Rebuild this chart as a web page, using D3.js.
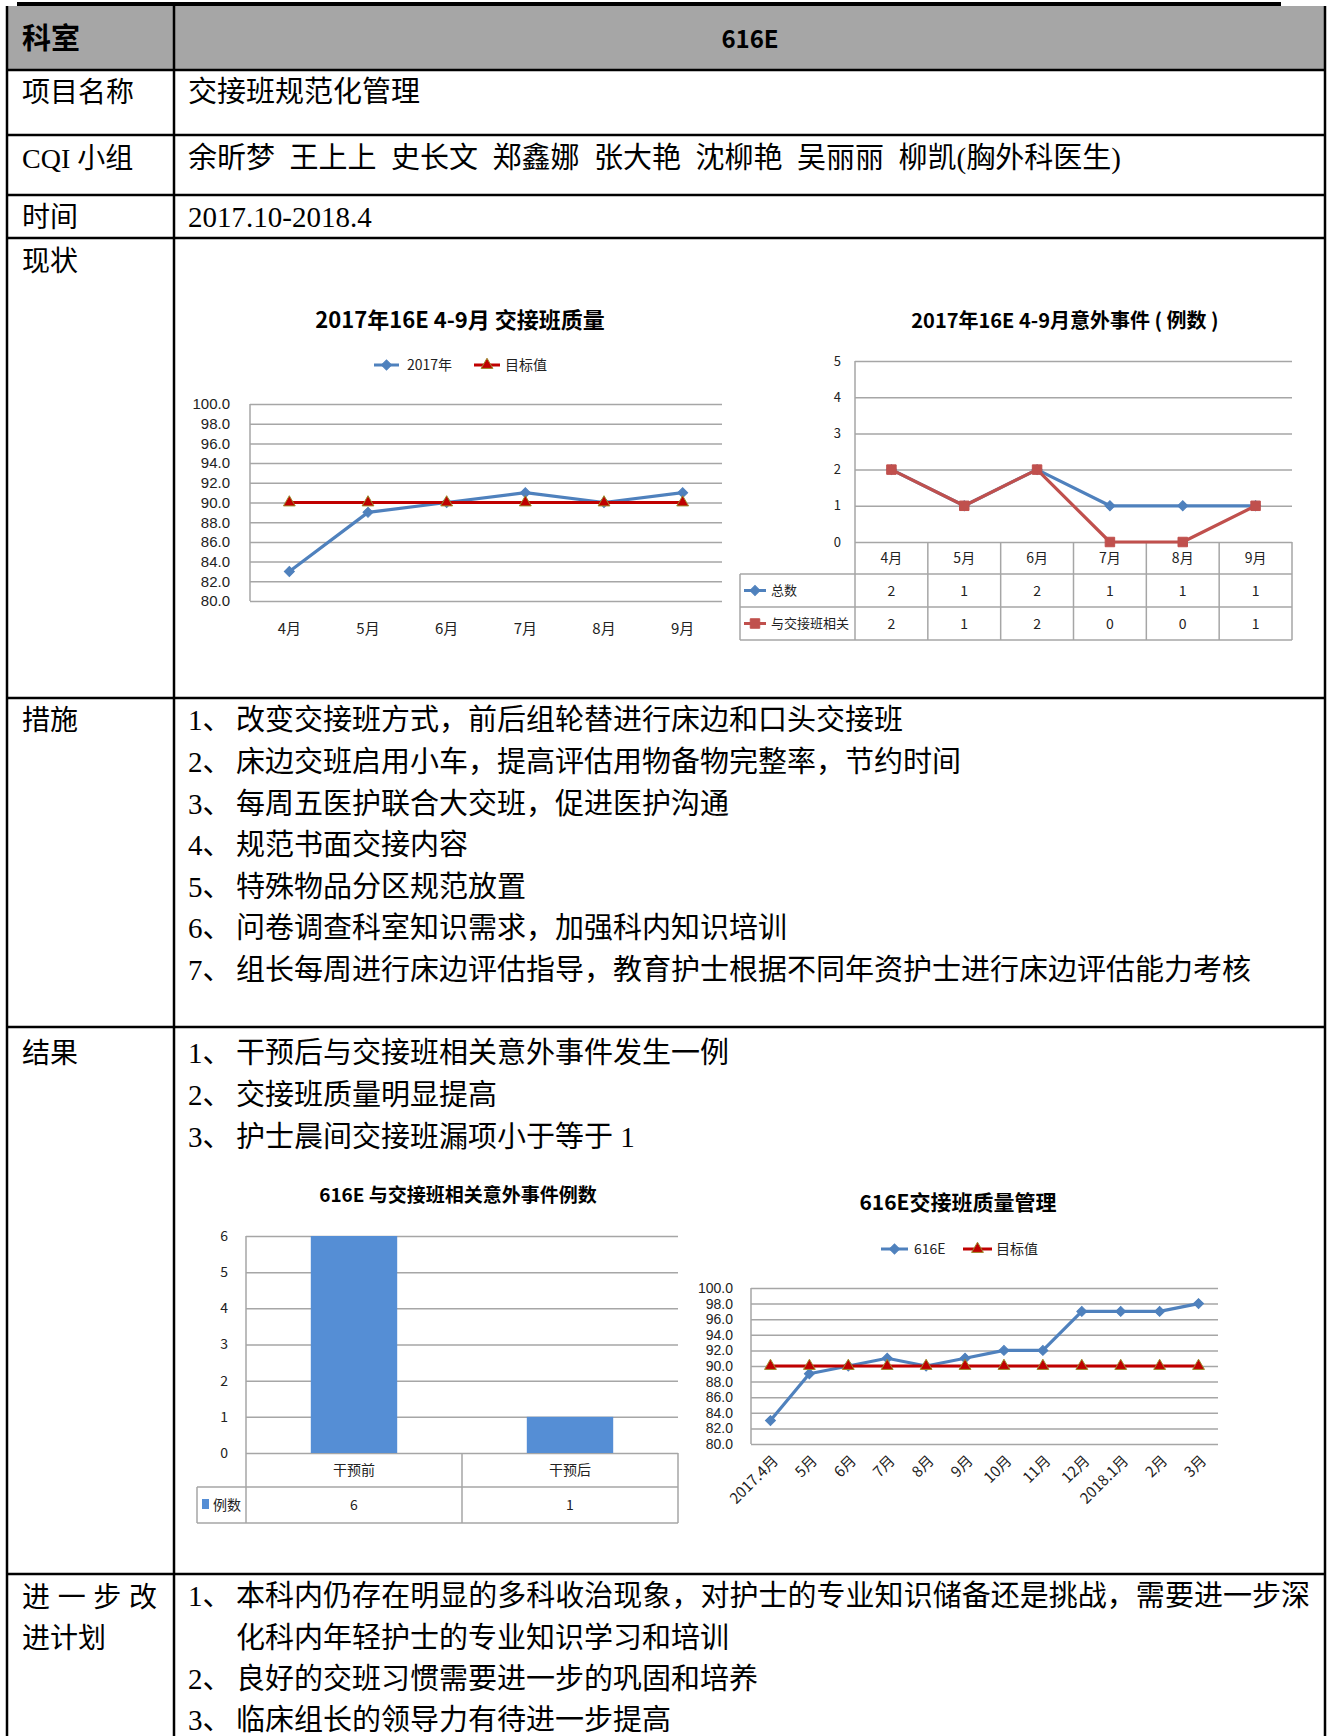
<!DOCTYPE html>
<html>
<head>
<meta charset="utf-8">
<script src="https://cdn.jsdelivr.net/npm/d3@7"></script>
<style>
  body { margin: 0; background: #fff; }
  svg { display: block; }
</style>
</head>
<body>
<script>
// ---- chart data ----
const months6 = ["4月", "5月", "6月", "7月", "8月", "9月"];
const quality2017 = [83, 89, 90, 91, 90, 91];
const targetValue = 90;
const qualityTicks = [80, 82, 84, 86, 88, 90, 92, 94, 96, 98, 100];

const eventTotal = [2, 1, 2, 1, 1, 1];
const eventHandover = [2, 1, 2, 0, 0, 1];
const eventTicks = [0, 1, 2, 3, 4, 5];

const phases = ["干预前", "干预后"];
const phaseCounts = [6, 1];
const phaseTicks = [0, 1, 2, 3, 4, 5, 6];

const months12 = ["2017.4月", "5月", "6月", "7月", "8月", "9月", "10月", "11月", "12月", "2018.1月", "2月", "3月"];
const quality616E = [83, 89, 90, 91, 90, 91, 92, 92, 97, 97, 97, 98];

// ---- table text ----
const members = "余昕梦  王上上  史长文  郑鑫娜  张大艳  沈柳艳  吴丽丽  柳凯(胸外科医生)";
const measures = [
  "改变交接班方式，前后组轮替进行床边和口头交接班",
  "床边交班启用小车，提高评估用物备物完整率，节约时间",
  "每周五医护联合大交班，促进医护沟通",
  "规范书面交接内容",
  "特殊物品分区规范放置",
  "问卷调查科室知识需求，加强科内知识培训",
  "组长每周进行床边评估指导，教育护士根据不同年资护士进行床边评估能力考核"
];
const results = [
  "干预后与交接班相关意外事件发生一例",
  "交接班质量明显提高",
  "护士晨间交接班漏项小于等于 1"
];
const plans = [
  ["本科内仍存在明显的多科收治现象，对护士的专业知识储备还是挑战，需要进一步深", "化科内年轻护士的专业知识学习和培训"],
  ["良好的交班习惯需要进一步的巩固和培养"],
  ["临床组长的领导力有待进一步提高"]
];

const SERIF = "'Liberation Serif', 'Noto Sans CJK SC', serif";
const SANS = "'Noto Sans CJK SC', 'Noto Sans', sans-serif";
const NUM = "'Liberation Sans', 'Noto Sans', sans-serif";
const GRID = "#a6a6a6";
const BLUE = "#4f81bd";
const DARKRED = "#c00000";
const RED = "#c0504d";

const svg = d3.select("body").append("svg")
    .attr("width", 1330)
    .attr("height", 1736);

function txt(g, x, y, s, size, opts = {}) {
  return g.append("text")
      .attr("x", x)
      .attr("y", y)
      .attr("dy", "0.36em")
      .attr("font-family", opts.family || SERIF)
      .attr("font-size", size)
      .attr("font-weight", opts.weight || "normal")
      .attr("text-anchor", opts.anchor || "start")
      .attr("fill", opts.fill || "#000")
      .style("white-space", "pre")
      .text(s);
}

// ---- table frame ----
const colLeft = 7, colMid = 174, colRight = 1325;
const rowLines = [70, 135, 195, 238, 698, 1027, 1574];

svg.append("rect")
    .attr("x", colLeft).attr("y", 6)
    .attr("width", colRight - colLeft).attr("height", 64)
    .attr("fill", "#a6a6a6");

svg.append("line")
    .attr("x1", 17).attr("x2", 1281).attr("y1", 4).attr("y2", 4)
    .attr("stroke", "#000").attr("stroke-width", 4);

rowLines.forEach(y => {
  svg.append("line")
      .attr("x1", colLeft - 1).attr("x2", colRight + 1).attr("y1", y).attr("y2", y)
      .attr("stroke", "#000").attr("stroke-width", 2.5);
});
[colLeft, colMid, colRight].forEach(x => {
  svg.append("line")
      .attr("x1", x).attr("x2", x).attr("y1", 6).attr("y2", 1736)
      .attr("stroke", "#000").attr("stroke-width", 2.5);
});

// ---- table text ----
txt(svg, 22, 39, "科室", 29, { family: SANS, weight: "bold" });
txt(svg, 750, 39, "616E", 24, { family: SANS, weight: "bold", anchor: "middle" });

txt(svg, 22, 92, "项目名称", 28);
txt(svg, 188, 92, "交接班规范化管理", 29);
txt(svg, 22, 158, "CQI 小组", 28);
txt(svg, 188, 158, members, 29);
txt(svg, 22, 217, "时间", 28);
txt(svg, 188, 217, "2017.10-2018.4", 29);
txt(svg, 22, 261, "现状", 28);

const lineGap = 41.6;
txt(svg, 22, 720, "措施", 28);
measures.forEach((s, i) => {
  txt(svg, 188, 720 + i * lineGap, (i + 1) + "、", 29);
  txt(svg, 236, 720 + i * lineGap, s, 29);
});

txt(svg, 22, 1053, "结果", 28);
results.forEach((s, i) => {
  txt(svg, 188, 1053 + i * lineGap, (i + 1) + "、", 29);
  txt(svg, 236, 1053 + i * lineGap, s, 29);
});

txt(svg, 22, 1597, "进 一 步 改", 28).attr("textLength", 135).attr("lengthAdjust", "spacing");
txt(svg, 22, 1638, "进计划", 28);
let planLine = 0;
plans.forEach((lines, i) => {
  lines.forEach((s, j) => {
    const y = 1596 + planLine * 41.2;
    if (j === 0) txt(svg, 188, y, (i + 1) + "、", 29);
    const t = txt(svg, 236, y, s, 29);
    if (j === 0 && lines.length > 1) t.attr("textLength", 1074).attr("lengthAdjust", "spacing");
    planLine++;
  });
});

// ---- chart helpers ----
const diamond = { type: d3.symbolSquare, size: 50, rotate: 45, fill: BLUE, stroke: BLUE };
const triangle = { type: d3.symbolTriangle, size: 60, rotate: 0, fill: DARKRED, stroke: "#9c8a2c" };
const square = { type: d3.symbolSquare, size: 90, rotate: 0, fill: RED, stroke: RED };

function drawMarker(g, cx, cy, m) {
  g.append("path")
      .attr("d", d3.symbol(m.type, m.size)())
      .attr("transform", `translate(${cx},${cy}) rotate(${m.rotate})`)
      .attr("fill", m.fill)
      .attr("stroke", m.stroke)
      .attr("stroke-width", 1);
}

function drawSeries(g, x, y, cats, vals, color, m) {
  const line = d3.line()
      .x((d, i) => x(cats[i]) + x.bandwidth() / 2)
      .y(d => y(d));
  g.append("path")
      .datum(vals)
      .attr("fill", "none")
      .attr("stroke", color)
      .attr("stroke-width", 3.2)
      .attr("stroke-linejoin", "round")
      .attr("d", line);
  vals.forEach((v, i) => drawMarker(g, x(cats[i]) + x.bandwidth() / 2, y(v), m));
}

function legendKey(g, x, y, len, color, m) {
  g.append("line")
      .attr("x1", x).attr("x2", x + len).attr("y1", y).attr("y2", y)
      .attr("stroke", color).attr("stroke-width", 3);
  drawMarker(g, x + len / 2, y, m);
}

function gridAxis(g, y, ticks, x0, x1, pad, fmt, size, family) {
  g.append("g")
      .attr("transform", `translate(${x0},0)`)
      .call(d3.axisLeft(y).tickValues(ticks).tickSize(-(x1 - x0)).tickPadding(pad).tickFormat(fmt))
      .call(a => a.select(".domain").remove())
      .call(a => a.selectAll("line").attr("stroke", GRID).attr("stroke-width", 1.5))
      .call(a => a.selectAll("text").attr("font-family", family).attr("font-size", size).attr("fill", "#222"));
  g.append("line")
      .attr("x1", x0).attr("x2", x0).attr("y1", y.range()[1]).attr("y2", y.range()[0])
      .attr("stroke", GRID).attr("stroke-width", 1.5);
}

function gline(g, x1, y1, x2, y2) {
  g.append("line")
      .attr("x1", x1).attr("x2", x2).attr("y1", y1).attr("y2", y2)
      .attr("stroke", GRID).attr("stroke-width", 1.5);
}

// ---- chart 1: 2017 quality ----
const c1 = svg.append("g");
const x1 = d3.scaleBand().domain(months6).range([250, 722]);
const y1 = d3.scaleLinear().domain([80, 100]).range([601, 404]);

txt(c1, 460, 320, "2017年16E 4-9月 交接班质量", 22, { family: SANS, weight: "bold", anchor: "middle" });
gridAxis(c1, y1, qualityTicks, 250, 722, 20, d3.format(".1f"), 15, NUM);

c1.append("g")
    .attr("transform", "translate(0,601)")
    .call(d3.axisBottom(x1).tickSize(0).tickPadding(22))
    .call(a => a.select(".domain").remove())
    .call(a => a.selectAll("text").attr("font-family", SANS).attr("font-size", 15).attr("fill", "#222"));

drawSeries(c1, x1, y1, months6, quality2017, BLUE, diamond);
drawSeries(c1, x1, y1, months6, months6.map(() => targetValue), DARKRED, triangle);

legendKey(c1, 374, 365, 25, BLUE, diamond);
txt(c1, 407, 365, "2017年", 14, { family: SANS, fill: "#222" });
legendKey(c1, 474, 365, 26, DARKRED, triangle);
txt(c1, 505, 365, "目标值", 14, { family: SANS, fill: "#222" });

// ---- chart 2: incidents 4-9 ----
const c2 = svg.append("g");
const x2 = d3.scaleBand().domain(months6).range([855, 1292]);
const y2 = d3.scaleLinear().domain([0, 5]).range([542, 361]);

txt(c2, 1065, 321, "2017年16E 4-9月意外事件 ( 例数 )", 20, { family: SANS, weight: "bold", anchor: "middle" });
gridAxis(c2, y2, eventTicks, 855, 1292, 14, d3.format("d"), 13, SANS);

// data table under chart 2
const t2 = [542, 574, 607, 640];
gline(c2, 740, t2[1], 1292, t2[1]);
gline(c2, 740, t2[2], 1292, t2[2]);
gline(c2, 740, t2[3], 1292, t2[3]);
gline(c2, 740, t2[1], 740, t2[3]);
gline(c2, 855, t2[0], 855, t2[3]);
months6.forEach(m => {
  gline(c2, x2(m) + x2.bandwidth(), t2[0], x2(m) + x2.bandwidth(), t2[3]);
});
months6.forEach((m, i) => {
  const cx = x2(m) + x2.bandwidth() / 2;
  txt(c2, cx, (t2[0] + t2[1]) / 2, m, 14, { family: SANS, anchor: "middle", fill: "#222" });
  txt(c2, cx, (t2[1] + t2[2]) / 2, eventTotal[i], 14, { family: SANS, anchor: "middle", fill: "#222" });
  txt(c2, cx, (t2[2] + t2[3]) / 2, eventHandover[i], 14, { family: SANS, anchor: "middle", fill: "#222" });
});
legendKey(c2, 744, (t2[1] + t2[2]) / 2, 22, BLUE, diamond);
txt(c2, 771, (t2[1] + t2[2]) / 2, "总数", 13, { family: SANS, fill: "#222" });
legendKey(c2, 744, (t2[2] + t2[3]) / 2, 22, RED, square);
txt(c2, 771, (t2[2] + t2[3]) / 2, "与交接班相关", 13, { family: SANS, fill: "#222" });

drawSeries(c2, x2, y2, months6, eventTotal, BLUE, diamond);
drawSeries(c2, x2, y2, months6, eventHandover, RED, square);

// ---- chart 3: before / after bars ----
const c3 = svg.append("g");
const x3 = d3.scaleBand().domain(phases).range([246, 678]);
const y3 = d3.scaleLinear().domain([0, 6]).range([1453, 1236]);

txt(c3, 458, 1195, "616E 与交接班相关意外事件例数", 19, { family: SANS, weight: "bold", anchor: "middle" });
gridAxis(c3, y3, phaseTicks, 246, 678, 18, d3.format("d"), 14, SANS);

const barW = x3.bandwidth() * 0.4;
c3.selectAll(".bar")
    .data(phaseCounts)
  .enter().append("rect")
    .attr("class", "bar")
    .attr("x", (d, i) => x3(phases[i]) + (x3.bandwidth() - barW) / 2)
    .attr("y", d => y3(d))
    .attr("width", barW)
    .attr("height", d => y3(0) - y3(d))
    .attr("fill", "#558ed5");

const t3 = [1453, 1487, 1523];
gline(c3, 197, t3[1], 678, t3[1]);
gline(c3, 197, t3[2], 678, t3[2]);
gline(c3, 197, t3[1], 197, t3[2]);
gline(c3, 246, t3[0], 246, t3[2]);
phases.forEach((p, i) => {
  const cx = x3(p) + x3.bandwidth() / 2;
  gline(c3, x3(p) + x3.bandwidth(), t3[0], x3(p) + x3.bandwidth(), t3[2]);
  txt(c3, cx, (t3[0] + t3[1]) / 2, p, 14, { family: SANS, anchor: "middle", fill: "#222" });
  txt(c3, cx, (t3[1] + t3[2]) / 2, phaseCounts[i], 14, { family: SANS, anchor: "middle", fill: "#222" });
});
c3.append("rect")
    .attr("x", 202).attr("y", (t3[1] + t3[2]) / 2 - 6)
    .attr("width", 7).attr("height", 10)
    .attr("fill", "#558ed5");
txt(c3, 213, (t3[1] + t3[2]) / 2, "例数", 14, { family: SANS, fill: "#222" });

// ---- chart 4: 616E quality ----
const c4 = svg.append("g");
const x4 = d3.scaleBand().domain(months12).range([751, 1218]);
const y4 = d3.scaleLinear().domain([80, 100]).range([1444, 1288]);

txt(c4, 958, 1202, "616E交接班质量管理", 21, { family: SANS, weight: "bold", anchor: "middle" });
gridAxis(c4, y4, qualityTicks, 751, 1218, 18, d3.format(".1f"), 14, NUM);

months12.forEach(m => {
  const cx = x4(m) + x4.bandwidth() / 2;
  c4.append("text")
      .attr("transform", `translate(${cx + 5},${1458}) rotate(-45)`)
      .attr("text-anchor", "end")
      .attr("dy", "0.35em")
      .attr("font-family", SANS)
      .attr("font-size", 15)
      .attr("fill", "#222")
      .text(m);
});

drawSeries(c4, x4, y4, months12, quality616E, BLUE, diamond);
drawSeries(c4, x4, y4, months12, months12.map(() => targetValue), DARKRED, triangle);

legendKey(c4, 881, 1249, 27, BLUE, diamond);
txt(c4, 914, 1249, "616E", 14, { family: SANS, fill: "#222" });
legendKey(c4, 963, 1249, 29, DARKRED, triangle);
txt(c4, 996, 1249, "目标值", 14, { family: SANS, fill: "#222" });
</script>
</body>
</html>
